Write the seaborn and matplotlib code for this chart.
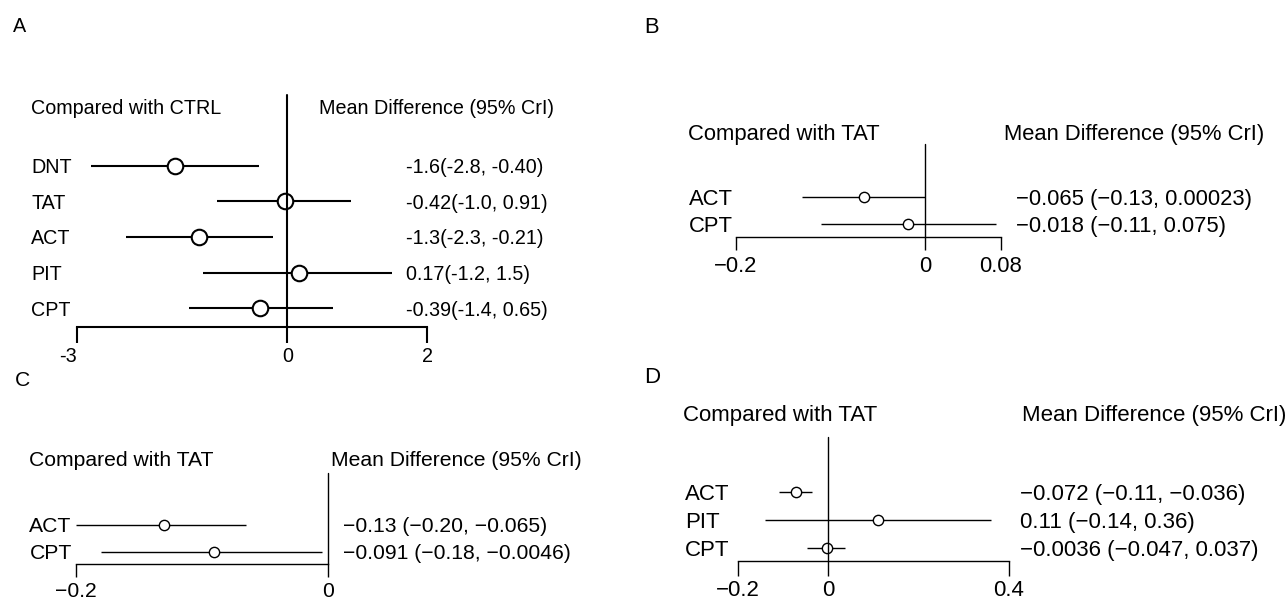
import numpy as np
import pandas as pd
import matplotlib
matplotlib.use("Agg")
import matplotlib.pyplot as plt
import matplotlib.transforms as mtransforms
import seaborn as sns

# ---------------- data ----------------
a_title = "Compared with CTRL"
a_labels = ["DNT", "TAT", "ACT", "PIT", "CPT"]
a_mean = [-1.6, -0.03, -1.26, 0.17, -0.39]
a_lo = [-2.8, -1.0, -2.3, -1.2, -1.4]
a_hi = [-0.40, 0.91, -0.21, 1.5, 0.65]
a_text = ["-1.6(-2.8, -0.40)", "-0.42(-1.0, 0.91)", "-1.3(-2.3, -0.21)",
          "0.17(-1.2, 1.5)", "-0.39(-1.4, 0.65)"]
a_ticks = [-3, 0, 2]
a_ticklabels = ["-3", "0", "2"]

b_title = "Compared with TAT"
b_labels = ["ACT", "CPT"]
b_mean = [-0.065, -0.018]
b_lo = [-0.13, -0.11]
b_hi = [0.00023, 0.075]
b_text = ["\u22120.065 (\u22120.13, 0.00023)", "\u22120.018 (\u22120.11, 0.075)"]
b_ticks = [-0.2, 0, 0.08]
b_ticklabels = ["\u22120.2", "0", "0.08"]

c_title = "Compared with TAT"
c_labels = ["ACT", "CPT"]
c_mean = [-0.13, -0.091]
c_lo = [-0.20, -0.18]
c_hi = [-0.065, -0.0046]
c_text = ["\u22120.13 (\u22120.20, \u22120.065)", "\u22120.091 (\u22120.18, \u22120.0046)"]
c_ticks = [-0.2, 0]
c_ticklabels = ["\u22120.2", "0"]

d_title = "Compared with TAT"
d_labels = ["ACT", "PIT", "CPT"]
d_mean = [-0.072, 0.11, -0.0036]
d_lo = [-0.11, -0.14, -0.047]
d_hi = [-0.036, 0.36, 0.037]
d_text = ["\u22120.072 (\u22120.11, \u22120.036)", "0.11 (\u22120.14, 0.36)",
          "\u22120.0036 (\u22120.047, 0.037)"]
d_ticks = [-0.2, 0, 0.4]
d_ticklabels = ["\u22120.2", "0", "0.4"]

header_right = "Mean Difference (95% CrI)"

# ---------------- style ----------------
sns.set_style("white")
plt.rcParams["font.family"] = ["Liberation Sans", "DejaVu Sans"]
plt.rcParams["text.color"] = "black"
plt.rcParams["axes.edgecolor"] = "black"
plt.rcParams["xtick.color"] = "black"
plt.rcParams["xtick.labelcolor"] = "black"

W, H = 1288, 599
fig = plt.figure(figsize=(W / 100, H / 100), dpi=100)
fig.patch.set_facecolor("white")


def panel(letter, title, labels, mean, lo, hi, texts, ticks, ticklabels, lay):
    x0, x1 = lay["x0"], lay["x1"]
    ytop, ybot = lay["ytop"], lay["ybot"]
    ax = fig.add_axes([x0 / W, 1 - ybot / H, (x1 - x0) / W, (ybot - ytop) / H])
    ax.patch.set_alpha(0)
    n = len(labels)
    df = pd.DataFrame({"label": labels, "row": np.arange(n),
                       "mean": mean, "lo": lo, "hi": hi})
    ax.hlines(df["row"], df["lo"], df["hi"], color="black", lw=lay["lw"], zorder=2)
    sns.scatterplot(data=df, x="mean", y="row", ax=ax, marker="o", s=lay["s"],
                    color="white", edgecolor="black", linewidth=lay["mew"],
                    zorder=3, legend=False)
    pts = ax.collections[-1]
    pts.set_facecolor("white")
    pts.set_edgecolor("black")
    pts.set_linewidth(lay["mew"])
    ax.axvline(0, color="black", lw=lay["lw"], zorder=4, clip_on=False)

    ax.set_xlim(ticks[0], ticks[-1])
    first, step = lay["first"], lay["step"]
    ax.set_ylim((ybot - first) / step, (ytop - first) / step)
    for s in ["top", "left", "right"]:
        ax.spines[s].set_visible(False)
    ax.spines["bottom"].set_linewidth(lay["lw"])
    ax.set_yticks([])
    ax.set_xticks(ticks, ticklabels)
    ax.tick_params(axis="x", direction="out", bottom=True, length=lay["ticklen"],
                   width=lay["lw"], pad=lay["pad"], labelsize=lay["fs"])
    if lay.get("first_ha"):
        ax.get_xticklabels()[0].set_horizontalalignment(lay["first_ha"])
    ax.set_xlabel("")
    ax.set_ylabel("")

    trans = mtransforms.blended_transform_factory(fig.transFigure, ax.transData)
    for i in range(n):
        ax.text(lay["left_x"] / W, i, labels[i], transform=trans, ha="left",
                va="center_baseline", fontsize=lay["fs"])
        ax.text(lay["value_x"] / W, i, texts[i], transform=trans, ha="left",
                va="center_baseline", fontsize=lay["fs"])
    fig.text(lay["title_x"] / W, 1 - lay["header_y"] / H, title, ha="left",
             va="center_baseline", fontsize=lay["fs"])
    fig.text(lay["mean_x"] / W, 1 - lay["header_y"] / H, header_right, ha="left",
             va="center_baseline", fontsize=lay["fs"])
    fig.text(lay["letter_x"] / W, 1 - lay["letter_y"] / H, letter, ha="left",
             va="center_baseline", fontsize=lay["fs"])
    return ax


lay_a = dict(x0=77.3, x1=427.3, ytop=95, ybot=326.7, first=165.7, step=35.65,
             lw=1.5, s=125, mew=1.5, ticklen=11.7, pad=3.0, fs=14.2,
             left_x=31, title_x=31, value_x=406, mean_x=319, header_y=106,
             letter_x=13, letter_y=25, first_ha="right")
lay_b = dict(x0=736, x1=1000.7, ytop=144, ybot=237.3, first=197.3, step=26.3,
             lw=1.0, s=55, mew=1.0, ticklen=9.2, pad=4.0, fs=15.8,
             left_x=689, title_x=688, value_x=1016, mean_x=1004, header_y=131.7,
             letter_x=644, letter_y=25)
lay_c = dict(x0=76, x1=328.3, ytop=473, ybot=564, first=525, step=26.7,
             lw=1.0, s=55, mew=1.0, ticklen=9.2, pad=3.5, fs=15.2,
             left_x=29.4, title_x=29.4, value_x=343, mean_x=331.4, header_y=458,
             letter_x=15, letter_y=378)
lay_d = dict(x0=738.3, x1=1008.6, ytop=436.7, ybot=561, first=491.7, step=28,
             lw=1.0, s=55, mew=1.0, ticklen=10.5, pad=3.5, fs=16,
             left_x=685, title_x=683, value_x=1020, mean_x=1022, header_y=413,
             letter_x=644, letter_y=375)

panel("A", a_title, a_labels, a_mean, a_lo, a_hi, a_text, a_ticks, a_ticklabels, lay_a)
panel("B", b_title, b_labels, b_mean, b_lo, b_hi, b_text, b_ticks, b_ticklabels, lay_b)
panel("C", c_title, c_labels, c_mean, c_lo, c_hi, c_text, c_ticks, c_ticklabels, lay_c)
panel("D", d_title, d_labels, d_mean, d_lo, d_hi, d_text, d_ticks, d_ticklabels, lay_d)

fig.savefig("out.png", dpi=100, facecolor="white")
